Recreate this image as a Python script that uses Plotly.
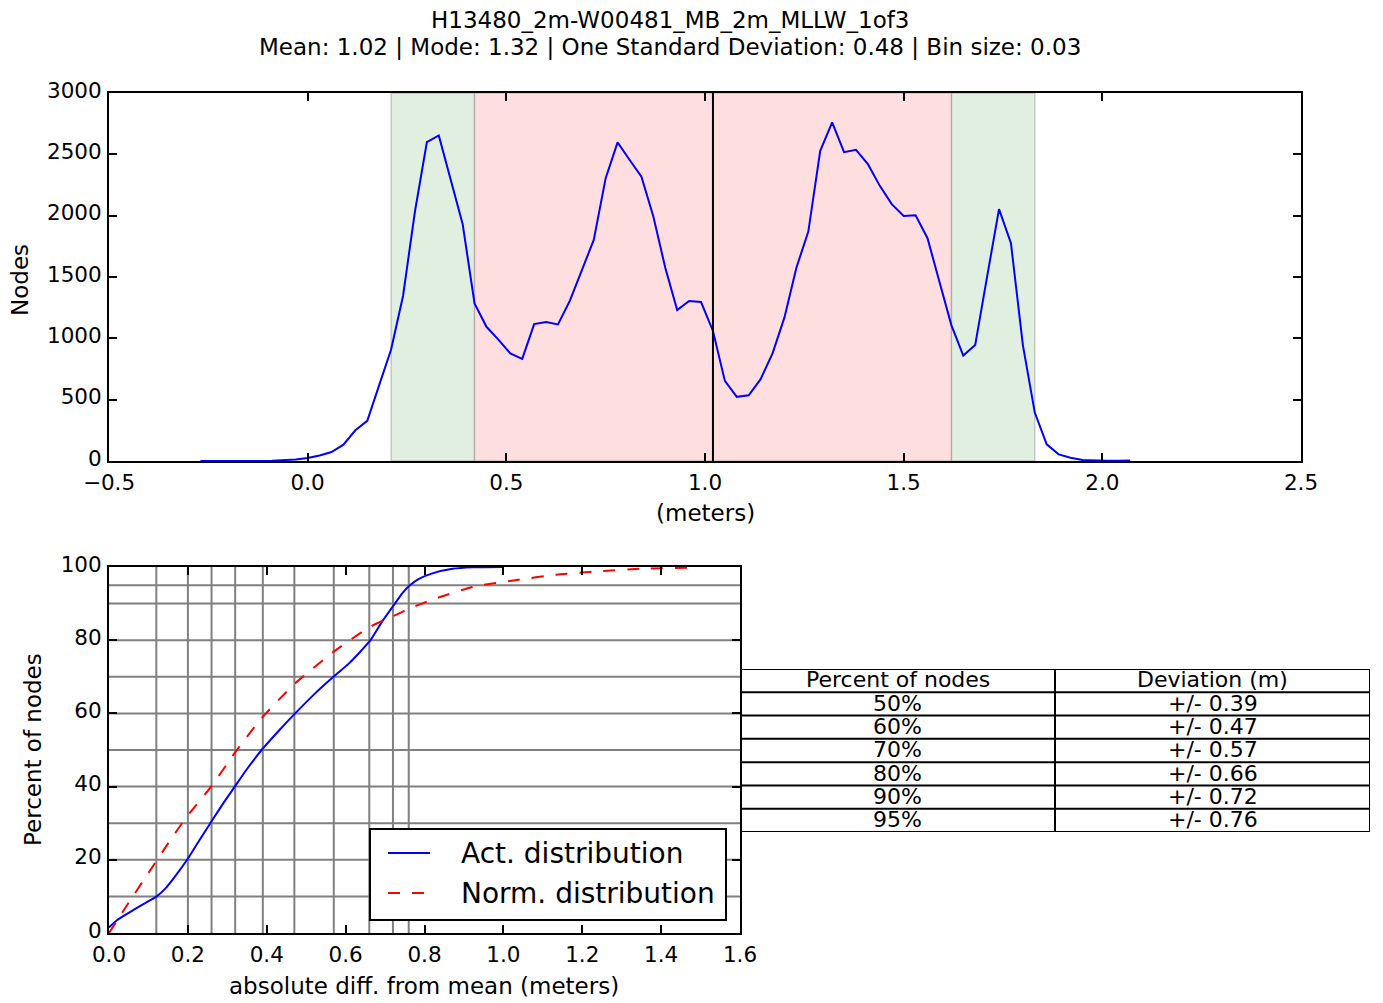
import plotly.graph_objects as go

# ---- histogram of differences (bin size 0.03 m) ----
bin_centers = [
    -0.27, -0.24, -0.21, -0.18, -0.15, -0.12, -0.09, -0.06, -0.03, 0.00,
    0.03, 0.06, 0.09, 0.12, 0.15, 0.18, 0.21, 0.24, 0.27, 0.30,
    0.33, 0.36, 0.39, 0.42, 0.45, 0.48, 0.51, 0.54, 0.57, 0.60,
    0.63, 0.66, 0.69, 0.72, 0.75, 0.78, 0.81, 0.84, 0.87, 0.90,
    0.93, 0.96, 0.99, 1.02, 1.05, 1.08, 1.11, 1.14, 1.17, 1.20,
    1.23, 1.26, 1.29, 1.32, 1.35, 1.38, 1.41, 1.44, 1.47, 1.50,
    1.53, 1.56, 1.59, 1.62, 1.65, 1.68, 1.71, 1.74, 1.77, 1.80,
    1.83, 1.86, 1.89, 1.92, 1.95, 1.98, 2.01, 2.04, 2.07,
]
node_counts = [
    1, 0, 0, 0, 0, 1, 3, 6, 12, 24,
    45, 73, 133, 250, 327, 618, 909, 1345, 2034, 2600,
    2654, 2292, 1933, 1285, 1094, 990, 877, 833, 1116, 1133,
    1113, 1307, 1557, 1802, 2306, 2597, 2456, 2317, 1993, 1576,
    1230, 1304, 1296, 1060, 653, 523, 536, 667, 877, 1171,
    1576, 1870, 2529, 2761, 2518, 2537, 2420, 2243, 2094, 1998,
    2004, 1816, 1462, 1108, 860, 945, 1503, 2053, 1775, 945,
    395, 136, 54, 27, 8, 3, 2, 3, 4,
]
mean_value = 1.02
inner_band = [0.42, 1.62]
outer_band = [0.21, 1.83]

# ---- cumulative distributions ----
act_dev = [0.0, 0.02, 0.05, 0.087, 0.121, 0.145, 0.17, 0.198, 0.23, 0.257,
           0.29, 0.319, 0.35, 0.387, 0.43, 0.472, 0.52, 0.569, 0.608, 0.64,
           0.663, 0.692, 0.725, 0.745, 0.763, 0.787, 0.818, 0.871, 0.924, 1.0]
act_pct = [1.5, 3.5, 5.5, 7.9, 10, 12.4, 15.8, 20, 25.5, 30,
           35.5, 40, 44.8, 50, 55.2, 60, 65.2, 70, 73.6, 77.2,
           80, 85, 90, 93, 95, 96.8, 98.2, 99.5, 99.9, 100]
norm_dev = [0.0, 0.05, 0.1, 0.15, 0.198, 0.257, 0.319, 0.387, 0.472, 0.569,
            0.663, 0.725, 0.763, 0.818, 0.924, 1.03, 1.134, 1.24, 1.345, 1.47]
norm_pct = [0.0, 8.3, 16.4, 24.5, 31.9, 39.7, 49.2, 58.7, 68.2, 76.8,
            83.7, 86.8, 88.7, 91.0, 94.6, 96.4, 97.9, 98.8, 99.5, 99.8]
series_names = ["Act. distribution", "Norm. distribution"]

# reference percentiles and their deviations (grid lines)
grid_pct = [10, 20, 30, 40, 50, 60, 70, 80, 90, 95]
grid_dev = [0.12, 0.20, 0.26, 0.32, 0.39, 0.47, 0.57, 0.66, 0.72, 0.76]

# ---- summary table ----
table_header = ["Percent of nodes", "Deviation (m)"]
table_pct = ["50%", "60%", "70%", "80%", "90%", "95%"]
table_dev = ["+/- 0.39", "+/- 0.47", "+/- 0.57", "+/- 0.66", "+/- 0.72", "+/- 0.76"]

W, H = 1383, 1003
FONT = "DejaVu Sans"
BLUE = "#0000ff"
RED = "#ff0000"
RED_DASH = "12px,12px"


def px_x(p):
    return p / W


def px_y(p):
    return 1 - p / H


fig = go.Figure()

fig.add_trace(go.Scatter(
    x=bin_centers, y=node_counts, mode="lines",
    line=dict(color=BLUE, width=2), showlegend=False,
    xaxis="x", yaxis="y",
))

fig.add_trace(go.Scatter(
    x=act_dev, y=act_pct, mode="lines", name=series_names[0],
    line=dict(color=BLUE, width=2, shape="spline", smoothing=0.6),
    xaxis="x2", yaxis="y2", showlegend=False,
))
fig.add_trace(go.Scatter(
    x=norm_dev, y=norm_pct, mode="lines", name=series_names[1],
    line=dict(color=RED, width=2, dash=RED_DASH, shape="spline", smoothing=0.6),
    xaxis="x2", yaxis="y2", showlegend=False,
))

shapes = []
annotations = []

# shaded deviation bands on the histogram
for x0, x1 in [(outer_band[0], inner_band[0]), (inner_band[1], outer_band[1])]:
    shapes.append(dict(type="rect", xref="x", yref="y", x0=x0, x1=x1, y0=0, y1=3000,
                       fillcolor="rgb(224,239,224)",
                       line=dict(color="rgba(0,0,0,0.18)", width=1.5), layer="below"))
shapes.append(dict(type="rect", xref="x", yref="y", x0=inner_band[0], x1=inner_band[1],
                   y0=0, y1=3000, fillcolor="rgb(255,222,224)",
                   line=dict(color="rgba(0,0,0,0.18)", width=1.5), layer="below"))
shapes.append(dict(type="line", xref="x", yref="y", x0=mean_value, x1=mean_value,
                   y0=0, y1=3000, line=dict(color="black", width=2)))

# percentile grid on the cumulative plot
for p in grid_pct:
    shapes.append(dict(type="line", xref="x2", yref="y2", x0=0, x1=1.6, y0=p, y1=p,
                       line=dict(color="rgb(128,128,128)", width=2), layer="below"))
for d in grid_dev:
    shapes.append(dict(type="line", xref="x2", yref="y2", x0=d, x1=d, y0=0, y1=100,
                       line=dict(color="rgb(128,128,128)", width=2), layer="below"))

# summary table laid out on its own (hidden) axes: columns 0..2, rows 0..7
table_cols = [[table_header[0]] + table_pct, [table_header[1]] + table_dev]
n_rows = len(table_cols[0])
for r in range(n_rows + 1):
    shapes.append(dict(type="line", xref="x3", yref="y3", x0=0, x1=2, y0=r, y1=r,
                       line=dict(color="black", width=2)))
for c in range(3):
    shapes.append(dict(type="line", xref="x3", yref="y3", x0=c, x1=c, y0=0, y1=n_rows,
                       line=dict(color="black", width=2)))
for c, col in enumerate(table_cols):
    for r, txt in enumerate(col):
        annotations.append(dict(text=txt, xref="x3", yref="y3", x=c + 0.5, y=r + 0.47,
                                xanchor="center", yanchor="middle", showarrow=False,
                                font=dict(family=FONT, size=22, color="black")))

# legend box for the cumulative plot
leg_x0, leg_x1, leg_y0, leg_y1 = 370, 726, 829, 920
shapes.append(dict(type="rect", xref="paper", yref="paper",
                   x0=px_x(leg_x0), x1=px_x(leg_x1), y0=px_y(leg_y1), y1=px_y(leg_y0),
                   fillcolor="white", line=dict(color="black", width=2), layer="above"))
for i, (name, color, dash) in enumerate([(series_names[0], BLUE, "solid"),
                                          (series_names[1], RED, RED_DASH)]):
    yy = px_y(853 + 40 * i)
    shapes.append(dict(type="line", xref="paper", yref="paper",
                       x0=px_x(388), x1=px_x(430), y0=yy, y1=yy,
                       line=dict(color=color, width=2, dash=dash), layer="above"))
    annotations.append(dict(text=name, xref="paper", yref="paper", x=px_x(459), y=yy,
                            xanchor="left", yanchor="middle", showarrow=False,
                            font=dict(family=FONT, size=28, color="black")))

axis_common = dict(
    showline=True, linecolor="black", linewidth=2, mirror="ticks",
    ticks="inside", ticklen=8, tickwidth=1.5, tickcolor="black",
    showgrid=False, zeroline=False, automargin=False,
    tickfont=dict(family=FONT, size=21.5, color="black"),
)

text_items = [
    dict(text="H13480_2m-W00481_MB_2m_MLLW_1of3", x=px_x(670), y=px_y(20), size=23),
    dict(text="Mean: 1.02 | Mode: 1.32 | One Standard Deviation: 0.48 | Bin size: 0.03",
         x=px_x(670), y=px_y(47), size=23),
    dict(text="(meters)", x=px_x(705), y=px_y(513), size=23),
    dict(text="Nodes", x=px_x(20), y=px_y(280), textangle=-90, size=23),
    dict(text="Percent of nodes", x=px_x(33), y=px_y(750), textangle=-90, size=23),
    dict(text="absolute diff. from mean (meters)", x=px_x(424), y=px_y(986), size=23),
]
for a in text_items:
    size = a.pop("size")
    a.update(xref="paper", yref="paper", xanchor="center", yanchor="middle",
             showarrow=False, font=dict(family=FONT, size=size, color="black"))
    annotations.append(a)

fig.update_layout(
    width=W, height=H,
    margin=dict(l=0, r=0, t=0, b=0, autoexpand=False),
    paper_bgcolor="white", plot_bgcolor="rgba(0,0,0,0)",
    font=dict(family=FONT, size=22, color="black"),
    xaxis=dict(axis_common, domain=[px_x(109), px_x(1301)], range=[-0.5, 2.5],
               tickvals=[-0.5, 0, 0.5, 1.0, 1.5, 2.0, 2.5], tickformat=".1f",
               anchor="y", ticklabelstandoff=1),
    yaxis=dict(axis_common, domain=[px_y(461), px_y(93)], range=[0, 3000],
               tickvals=[0, 500, 1000, 1500, 2000, 2500, 3000], anchor="x",
               ticklabelstandoff=1, ticklabelshift=-3),
    xaxis2=dict(axis_common, domain=[px_x(109), px_x(740)], range=[0, 1.6],
                tickvals=[0, 0.2, 0.4, 0.6, 0.8, 1.0, 1.2, 1.4, 1.6], tickformat=".1f",
                anchor="y2", ticklabelstandoff=1),
    yaxis2=dict(axis_common, domain=[px_y(933), px_y(567)], range=[0, 100],
                tickvals=[0, 20, 40, 60, 80, 100], anchor="x2", ticklabelstandoff=1,
                ticklabelshift=-3),
    xaxis3=dict(domain=[px_x(740), px_x(1370)], range=[0, 2], visible=False,
                anchor="y3", fixedrange=True),
    yaxis3=dict(domain=[px_y(832), px_y(669)], range=[n_rows, 0], visible=False,
                anchor="x3", fixedrange=True),
    shapes=shapes,
    annotations=annotations,
    showlegend=False,
)

fig.write_html("out.html")
